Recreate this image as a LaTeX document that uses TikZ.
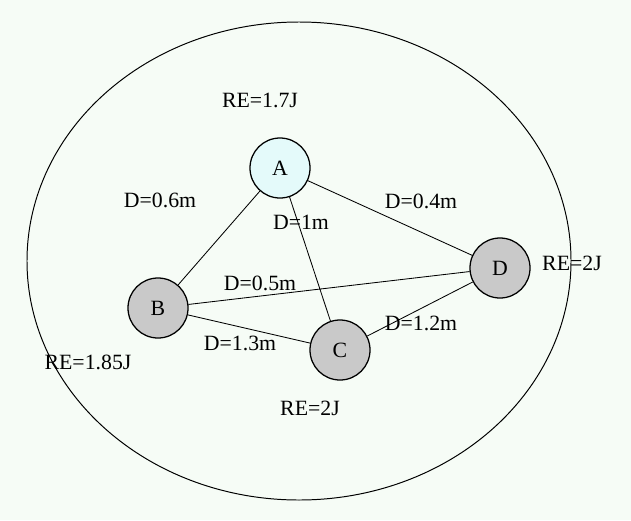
\documentclass[tikz,border=0pt]{standalone}
\usepackage{fontspec}
\setmainfont{Liberation Serif}
\definecolor{bgpale}{RGB}{246,252,246}
\definecolor{nodecyan}{RGB}{228,250,250}
\definecolor{nodegray}{RGB}{201,201,201}
\tikzset{
  sensor/.style={circle, draw, line width=0.9pt, minimum size=1.5cm, inner sep=0pt, fill=nodegray},
  lbl/.style={inner sep=0pt}
}
\begin{document}
\begin{tikzpicture}[x=0.025cm, y=-0.025cm, font=\fontsize{15.5}{18}\selectfont]
            \fill[bgpale] (0,0) rectangle (631,520);
            \useasboundingbox (0,0) rectangle (631,520);
            \draw[line width=0.7pt] (299,261) ellipse (272 and 239);
            \node[sensor, fill=nodecyan] (A) at (280,168) {A};
            \node[sensor] (B) at (158,308) {B};
            \node[sensor] (C) at (340,350) {C};
            \node[sensor] (D) at (500,268) {D};
            \draw[line width=0.6pt] (A) -- (B) (A) -- (C) (A) -- (D)
                (B) -- (D) (B) -- (C) (C) -- (D);
            \node[lbl] (reA) at (260,100) {RE=1.7J};
            \node[lbl] (reB) at (88,362) {RE=1.85J};
            \node[lbl] (reC) at (310,408) {RE=2J};
            \node[lbl] (reD) at (572,263) {RE=2J};
            \node[lbl] (dAB) at (160,200) {D=0.6m};
            \node[lbl] (dAC) at (301,222) {D=1m};
            \node[lbl] (dAD) at (421,201) {D=0.4m};
            \node[lbl] (dBD) at (260,283) {D=0.5m};
            \node[lbl] (dBC) at (240,343) {D=1.3m};
            \node[lbl] (dCD) at (421,323) {D=1.2m};
        \end{tikzpicture}
\end{document}
